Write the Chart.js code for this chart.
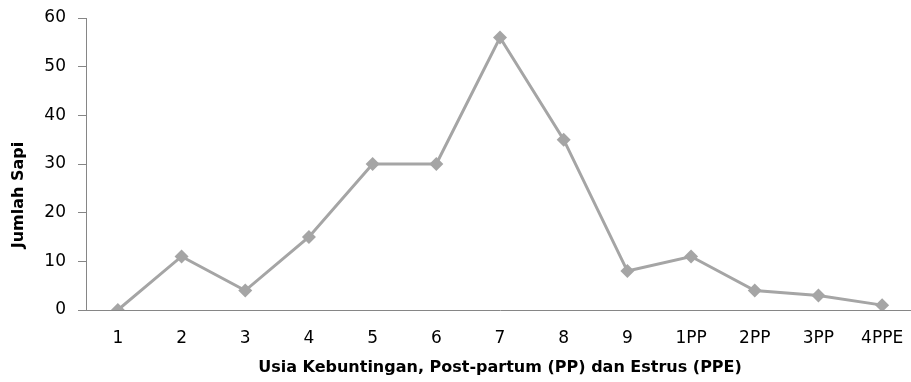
<!DOCTYPE html>
<html>
<head>
<meta charset="utf-8">
<script src="https://cdn.jsdelivr.net/npm/chart.js@4"></script>
<style>
    html, body { margin: 0; padding: 0; overflow: hidden; background: #fff; }
    #SapiChart { display: block; }
</style>
</head>
<body>
<canvas id="SapiChart" width="921" height="382"></canvas>
<script>
// Data block
const categories = ['1', '2', '3', '4', '5', '6', '7', '8', '9', '1PP', '2PP', '3PP', '4PPE'];
const jumlahSapi = [0, 11, 4, 15, 30, 30, 56, 35, 8, 11, 4, 3, 1];
const yTicks = [0, 10, 20, 30, 40, 50, 60];

const xTitle = 'Usia Kebuntingan, Post-partum (PP) dan Estrus (PPE)';
const yTitle = 'Jumlah Sapi';

const fontFamily = '"DejaVu Sans", "Open Sans", sans-serif';

// Y axis title plugin (drawn off-centre like the original)
const yTitlePlugin = {
    id: 'yTitle',
    afterDraw(chart) {
        const ctx = chart.ctx;
        ctx.save();
        ctx.translate(19, 195);
        ctx.rotate(-Math.PI / 2);
        ctx.font = 'bold 16px ' + fontFamily;
        ctx.fillStyle = '#000';
        ctx.textAlign = 'center';
        ctx.textBaseline = 'middle';
        ctx.fillText(yTitle, 0, 0);
        ctx.restore();
    }
};

// Config block
const sapiConfig = {
    type: 'line',
    data: {
        labels: categories,
        datasets: [{
            label: yTitle,
            data: jumlahSapi,
            borderColor: '#A5A5A5',
            backgroundColor: '#A5A5A5',
            borderWidth: 3,
            pointStyle: 'rectRot',
            pointRadius: 7,
            pointBorderWidth: 0,
            tension: 0
        }]
    },
    options: {
        responsive: false,
        animation: false,
        layout: { padding: { top: 18, left: 0, right: 0, bottom: 0 } },
        plugins: {
            legend: { display: false },
            tooltip: { enabled: false }
        },
        scales: {
            x: {
                offset: true,
                grid: { display: false, drawTicks: false },
                border: { display: true, color: '#868686', width: 1 },
                ticks: {
                    color: '#000',
                    padding: 18,
                    maxRotation: 0,
                    autoSkip: false,
                    font: { family: fontFamily, size: 17 }
                },
                title: {
                    display: true,
                    text: xTitle,
                    color: '#000',
                    font: { family: fontFamily, size: 16, weight: 'bold' },
                    padding: { top: 0, bottom: 5 }
                },
                afterFit(scale) {
                    scale.height = 72;
                    scale.paddingLeft = 0;
                    scale.paddingRight = 0;
                }
            },
            y: {
                min: 0,
                max: 60,
                afterBuildTicks(scale) { scale.ticks = yTicks.map(v => ({ value: v })); },
                grid: {
                    drawOnChartArea: false,
                    drawTicks: true,
                    tickLength: 8,
                    color: '#868686'
                },
                border: { display: true, color: '#868686', width: 1 },
                ticks: {
                    color: '#000',
                    padding: 12,
                    font: { family: fontFamily, size: 17 }
                },
                afterFit(scale) {
                    scale.width = 86;
                    scale.paddingTop = 0;
                    scale.paddingBottom = 0;
                }
            }
        }
    },
    plugins: [yTitlePlugin]
};

// Render block
const sapiChart = new Chart(document.getElementById('SapiChart'), sapiConfig);
</script>
</body>
</html>
